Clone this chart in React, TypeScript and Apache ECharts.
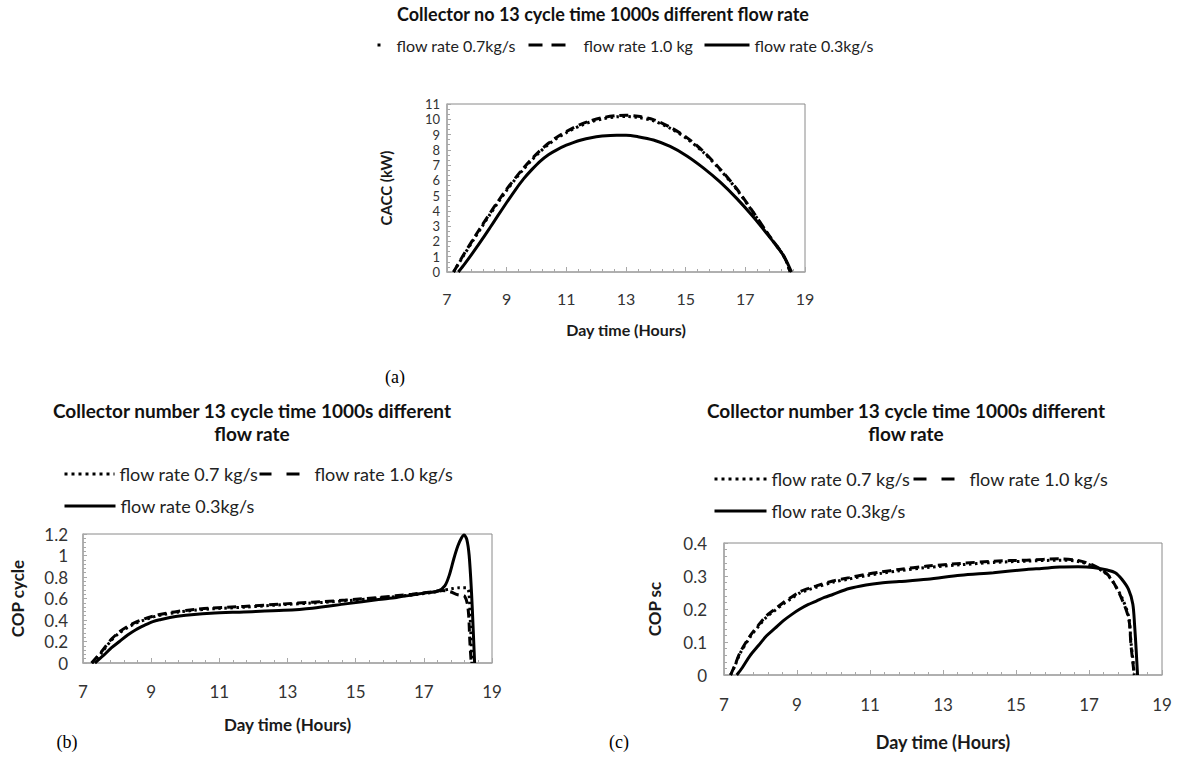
import React, { useEffect, useRef } from "react";
import * as echarts from "echarts";

// ---------- Chart (a): CACC (kW) ----------
const hoursA03 = [7.38, 7.6, 7.88, 8.2, 8.44, 8.7, 9.0, 9.3, 9.56, 9.85, 10.12, 10.4, 10.68, 11.0, 11.23, 11.5, 11.79, 12.2, 12.69, 13.0, 13.4, 13.92, 14.48, 15.04, 15.59, 16.15, 16.71, 17.27, 17.83, 18.1, 18.27, 18.4, 18.5, 18.55];
const cacc03 = [0, 0.55, 1.3, 2.2, 2.9, 3.67, 4.55, 5.4, 6.08, 6.72, 7.25, 7.68, 8.0, 8.3, 8.47, 8.64, 8.78, 8.9, 8.96, 8.96, 8.86, 8.64, 8.22, 7.6, 6.82, 5.9, 4.82, 3.6, 2.25, 1.56, 1.1, 0.62, 0.2, 0];
const hoursAHigh = [7.22, 7.5, 7.88, 8.15, 8.44, 8.7, 9.0, 9.3, 9.56, 9.85, 10.12, 10.4, 10.68, 11.0, 11.23, 11.5, 11.79, 12.2, 12.69, 13.0, 13.4, 13.92, 14.48, 15.04, 15.59, 16.15, 16.71, 17.27, 17.83, 18.1, 18.27, 18.4, 18.5];
const cacc10 = [0, 0.95, 2.15, 2.98, 3.85, 4.6, 5.42, 6.18, 6.8, 7.42, 7.95, 8.43, 8.83, 9.2, 9.44, 9.68, 9.89, 10.1, 10.24, 10.26, 10.2, 9.98, 9.48, 8.8, 7.9, 6.75, 5.45, 3.9, 2.3, 1.6, 1.12, 0.6, 0];
const cacc07 = [0, 0.9, 2.08, 2.9, 3.77, 4.52, 5.34, 6.1, 6.72, 7.34, 7.87, 8.35, 8.75, 9.12, 9.36, 9.6, 9.81, 10.02, 10.16, 10.18, 10.12, 9.9, 9.41, 8.73, 7.84, 6.7, 5.41, 3.87, 2.28, 1.58, 1.1, 0.58, 0];

// ---------- Chart (b): COP cycle ----------
const hoursB03 = [7.35, 7.6, 7.83, 8.07, 8.31, 8.55, 8.8, 9.05, 9.29, 9.55, 9.77, 10.26, 10.75, 11.72, 12.89, 13.73, 14.7, 15.67, 16.2, 16.65, 17.0, 17.42, 17.62, 17.75, 17.88, 18.0, 18.1, 18.18, 18.26, 18.33, 18.4, 18.45, 18.49];
const copCycle03 = [0, 0.07, 0.14, 0.2, 0.26, 0.31, 0.35, 0.385, 0.405, 0.423, 0.435, 0.452, 0.463, 0.475, 0.49, 0.51, 0.55, 0.59, 0.61, 0.632, 0.65, 0.67, 0.72, 0.82, 0.97, 1.09, 1.16, 1.19, 1.15, 1.0, 0.65, 0.3, 0];
const hoursB10 = [7.25, 7.53, 7.83, 8.07, 8.31, 8.55, 8.8, 9.05, 9.29, 9.77, 10.26, 10.75, 11.72, 12.89, 13.73, 14.7, 15.67, 16.65, 17.2, 17.5, 17.75, 18.0, 18.2, 18.3, 18.35, 18.39];
const copCycle10 = [0, 0.1, 0.22, 0.29, 0.34, 0.38, 0.41, 0.435, 0.454, 0.48, 0.497, 0.51, 0.526, 0.55, 0.565, 0.585, 0.61, 0.64, 0.66, 0.675, 0.665, 0.635, 0.62, 0.5, 0.2, 0];
const hoursB07 = [7.27, 7.53, 7.83, 8.07, 8.31, 8.55, 8.8, 9.05, 9.29, 9.77, 10.26, 10.75, 11.72, 12.89, 13.73, 14.7, 15.67, 16.65, 17.2, 17.5, 17.8, 18.05, 18.25, 18.32, 18.37, 18.41];
const copCycle07 = [0, 0.09, 0.21, 0.28, 0.33, 0.37, 0.4, 0.427, 0.446, 0.472, 0.49, 0.503, 0.519, 0.543, 0.558, 0.578, 0.603, 0.633, 0.655, 0.672, 0.69, 0.7, 0.7, 0.66, 0.35, 0];

// ---------- Chart (c): COP sc ----------
const hoursC03 = [7.35, 7.5, 7.71, 7.95, 8.16, 8.4, 8.62, 8.85, 9.07, 9.3, 9.53, 9.75, 9.98, 10.43, 10.89, 11.3, 11.8, 12.57, 13.48, 14.38, 15.29, 15.7, 16.2, 16.7, 17.11, 17.5, 17.72, 17.9, 18.08, 18.2, 18.25, 18.29, 18.33];
const copSc03 = [0, 0.022, 0.058, 0.09, 0.118, 0.142, 0.164, 0.183, 0.199, 0.213, 0.224, 0.235, 0.244, 0.262, 0.273, 0.279, 0.283, 0.29, 0.302, 0.31, 0.32, 0.323, 0.327, 0.328, 0.326, 0.318, 0.31, 0.29, 0.26, 0.215, 0.15, 0.08, 0];
const hoursCHigh = [7.18, 7.3, 7.44, 7.71, 7.95, 8.16, 8.4, 8.62, 8.85, 9.07, 9.3, 9.53, 9.98, 10.43, 10.89, 11.3, 11.8, 12.57, 13.48, 14.38, 15.29, 16.2, 16.7, 17.11, 17.4, 17.62, 17.9, 18.09, 18.15, 18.2, 18.24];
const copSc10 = [0, 0.03, 0.068, 0.118, 0.152, 0.179, 0.2, 0.219, 0.236, 0.252, 0.262, 0.27, 0.285, 0.295, 0.305, 0.312, 0.32, 0.33, 0.338, 0.345, 0.348, 0.352, 0.347, 0.333, 0.315, 0.29, 0.23, 0.17, 0.09, 0.04, 0];
const copSc07 = [0, 0.028, 0.065, 0.114, 0.148, 0.175, 0.196, 0.215, 0.232, 0.248, 0.258, 0.266, 0.281, 0.291, 0.301, 0.308, 0.316, 0.326, 0.334, 0.341, 0.345, 0.348, 0.344, 0.33, 0.313, 0.288, 0.235, 0.175, 0.1, 0.05, 0];

// ---------- Texts ----------
const titleA = "Collector no 13 cycle time 1000s different flow rate";
const titleBC = "Collector number 13 cycle time 1000s different\nflow rate";
const namesA = ["flow rate 0.7kg/s", "flow rate 1.0 kg", "flow rate 0.3kg/s"];
const namesBC = ["flow rate 0.7 kg/s", "flow rate 1.0 kg/s", "flow rate 0.3kg/s"];
const xName = "Day time (Hours)";
const yNames = ["CACC (kW)", "COP cycle", "COP sc"];
const panelLabels = ["(a)", "(b)", "(c)"];

// Axis ranges
const xRange = { min: 7, max: 19, interval: 2 };
const yRanges = [
  { min: 0, max: 11, interval: 1, minor: 3 },
  { min: 0, max: 1.2, interval: 0.2, minor: 5 },
  { min: 0, max: 0.4, interval: 0.1, minor: 5 },
];

const FONT = 'Lato, "Noto Sans", sans-serif';
const AXIS_GRAY = "#a8a8a8";
const DOT: number[] = [2.5, 3.5];
const DASH: number[] = [9, 5];

const zip = (xs: number[], ys: number[]) => xs.map((x, i) => [x, ys[i]]);

export default function App() {
  const ref = useRef<HTMLDivElement>(null);

  useEffect(() => {
    if (!ref.current) return;
    const chart = echarts.init(ref.current, undefined, { renderer: "svg" });

    const grids = [
      { left: 447, top: 104, width: 358, height: 168 },
      { left: 83, top: 534, width: 409, height: 129 },
      { left: 724, top: 543, width: 438, height: 132 },
    ];
    const xLabelSize = [16, 17, 17];
    const yLabelSize = [13, 17, 17];
    const yLabelLineHeight = [13, 18, 18];
    const xLabelMargin = [18, 20, 21];
    const yLabelMargin = [7, 15, 17];
    const xNameSize = [16, 17, 18];
    const yNameSize = [15, 17, 17];
    const xNameGap = [49, 53, 58];
    const yNameGap = [54, 57, 61];

    const xAxis = grids.map((_, i) => ({
      type: "value",
      gridIndex: i,
      min: xRange.min,
      max: xRange.max,
      interval: xRange.interval,
      name: xName,
      nameLocation: "middle",
      nameGap: xNameGap[i],
      nameTextStyle: { fontFamily: FONT, fontWeight: "bold", fontSize: xNameSize[i], color: "#1a1a1a" },
      axisLine: { show: true, onZero: false, lineStyle: { color: AXIS_GRAY, width: 1.5 } },
      axisTick: { show: true, inside: true, length: 5, lineStyle: { color: AXIS_GRAY } },
      minorTick: { show: true, splitNumber: 5, length: 3, lineStyle: { color: AXIS_GRAY } },
      splitLine: { show: false },
      axisLabel: {
        fontFamily: FONT,
        fontSize: xLabelSize[i],
        color: "#333",
        margin: xLabelMargin[i],
        showMinLabel: true,
        showMaxLabel: true,
      },
    }));

    const yAxis = grids.map((_, i) => ({
      type: "value",
      gridIndex: i,
      min: yRanges[i].min,
      max: yRanges[i].max,
      interval: yRanges[i].interval,
      name: yNames[i],
      nameLocation: "middle",
      nameGap: yNameGap[i],
      nameTextStyle: { fontFamily: FONT, fontWeight: "bold", fontSize: yNameSize[i], color: "#1a1a1a" },
      axisLine: { show: true, lineStyle: { color: AXIS_GRAY, width: 1.5 } },
      axisTick: { show: true, inside: true, length: 4, lineStyle: { color: AXIS_GRAY } },
      minorTick: { show: true, splitNumber: yRanges[i].minor, length: 3, lineStyle: { color: AXIS_GRAY } },
      splitLine: { show: false },
      axisLabel: {
        fontFamily: FONT,
        fontSize: yLabelSize[i],
        lineHeight: yLabelLineHeight[i],
        color: "#333",
        margin: yLabelMargin[i],
        showMinLabel: true,
        showMaxLabel: true,
      },
    }));

    const lineSeries = (name: string, idx: number, data: number[][], type: any, z: number) => ({
      name,
      type: "line",
      xAxisIndex: idx,
      yAxisIndex: idx,
      data,
      symbol: "none",
      smooth: 0.3,
      z,
      lineStyle: { color: "#000", width: 3, type },
      itemStyle: { color: "#000" },
    });

    const series = [
      lineSeries(namesA[0], 0, zip(hoursAHigh, cacc07), DOT, 3),
      lineSeries(namesA[1], 0, zip(hoursAHigh, cacc10), DASH, 4),
      lineSeries(namesA[2], 0, zip(hoursA03, cacc03), "solid", 5),
      lineSeries(namesBC[0], 1, zip(hoursB07, copCycle07), DOT, 3),
      lineSeries(namesBC[1], 1, zip(hoursB10, copCycle10), DASH, 4),
      lineSeries(namesBC[2], 1, zip(hoursB03, copCycle03), "solid", 5),
      lineSeries(namesBC[0], 2, zip(hoursCHigh, copSc07), DOT, 3),
      lineSeries(namesBC[1], 2, zip(hoursCHigh, copSc10), DASH, 4),
      lineSeries(namesBC[2], 2, zip(hoursC03, copSc03), "solid", 5),
    ];

    const legendItem = (name: string, left: number, top: number, itemWidth: number, dash: any, fontSize: number) => ({
      data: [name],
      left,
      top,
      padding: 0,
      itemWidth,
      itemHeight: 12,
      selectedMode: false,
      textStyle: { fontFamily: FONT, fontSize, color: "#222" },
      itemStyle: { opacity: 0, color: "transparent", borderWidth: 0 },
      lineStyle: { color: "#000", width: 3, type: dash, opacity: 1 },
    });

    const legend = [
      legendItem(namesA[0], 376, 37, 14, [3, 40], 16),
      legendItem(namesA[1], 527, 37, 50, [14, 9, 14, 40], 16),
      legendItem(namesA[2], 703, 37, 45, "solid", 16),
      legendItem(namesBC[0], 63, 465, 50, [3, 4], 18),
      legendItem(namesBC[1], 258, 465, 50, [12, 15, 13, 40], 18),
      legendItem(namesBC[2], 63, 497, 51, "solid", 18),
      legendItem(namesBC[0], 713, 470, 52, [3, 4], 18),
      legendItem(namesBC[1], 912, 470, 51, [13, 15, 13, 40], 18),
      legendItem(namesBC[2], 713, 502, 52, "solid", 18),
    ];

    const title = [
      { text: titleA, left: 603, top: 3, textAlign: "center", padding: 0, textStyle: { fontFamily: FONT, fontWeight: "bold", fontSize: 18, color: "#111", lineHeight: 22 } },
      { text: titleBC, left: 252, top: 399, textAlign: "center", padding: 0, textStyle: { fontFamily: FONT, fontWeight: "bold", fontSize: 19, color: "#111", lineHeight: 23 } },
      { text: titleBC, left: 906, top: 399, textAlign: "center", padding: 0, textStyle: { fontFamily: FONT, fontWeight: "bold", fontSize: 19, color: "#111", lineHeight: 23 } },
    ];

    const labelPos = [
      [395, 377],
      [67, 742],
      [619, 742],
    ];
    const graphic = panelLabels.map((t, i) => ({
      type: "text",
      x: labelPos[i][0],
      y: labelPos[i][1],
      style: {
        text: t,
        font: '18px "Liberation Serif", "Times New Roman", serif',
        fill: "#000",
        textAlign: "center",
        textVerticalAlign: "middle",
      },
    }));

    chart.setOption({
      animation: false,
      backgroundColor: "#ffffff",
      title,
      legend,
      grid: grids.map((g) => ({ ...g, show: true, borderColor: "#8a8a8a", borderWidth: 1, backgroundColor: "transparent" })),
      xAxis,
      yAxis,
      series,
      graphic,
    });

    return () => chart.dispose();
  }, []);

  return (
    <div
      ref={ref}
      style={{ position: "absolute", left: 0, top: 0, width: 1185, height: 757, background: "#fff" }}
    />
  );
}
